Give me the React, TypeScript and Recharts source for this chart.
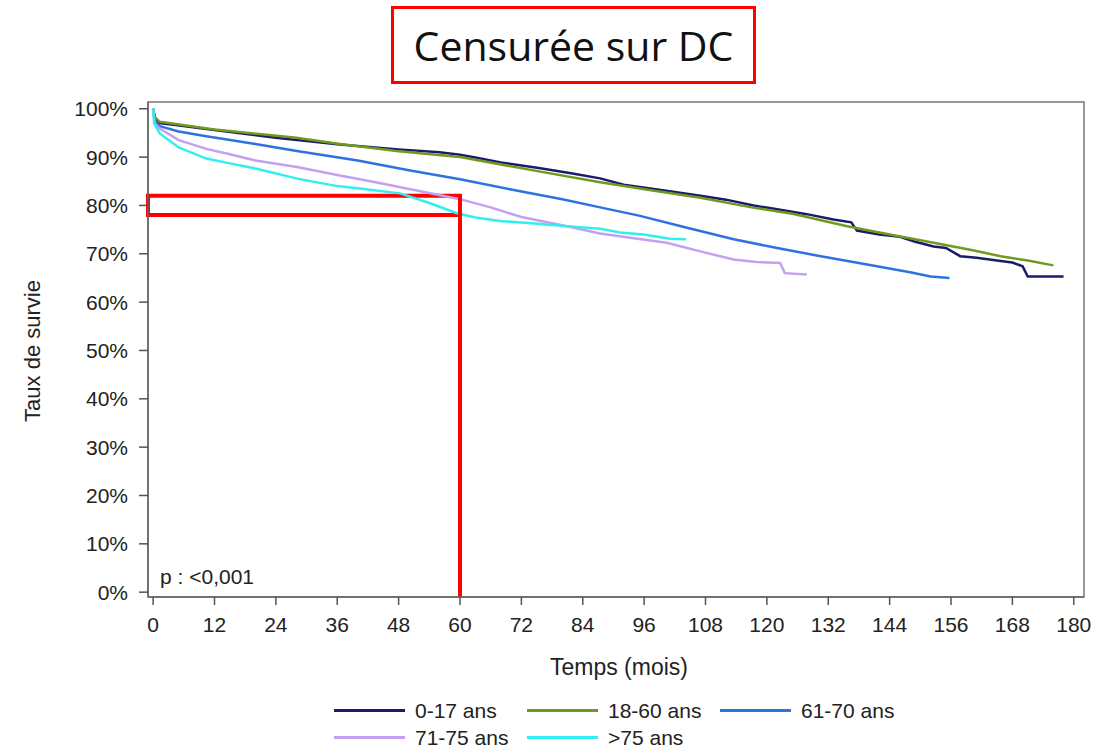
import { LineChart, Line, XAxis, YAxis, ReferenceArea, ReferenceLine } from "recharts";

// Kaplan-Meier survival by age group, months vs % surviving
const group0to17 = [
  [0, 100], [0.5, 97.5], [1.5, 97.0], [4, 96.7], [12, 95.6], [24, 94.0], [36.5, 92.6], [48, 91.6],
  [56, 91.0], [60, 90.5], [63, 89.9], [68, 88.9], [75.7, 87.7], [82, 86.6], [87.4, 85.6], [92, 84.3],
  [97.2, 83.5], [102, 82.8], [107, 82.0], [112, 81.2], [117.4, 80.0], [122, 79.2], [127.8, 78.2],
  [133, 77.1], [136.5, 76.5], [137.6, 74.8], [142, 74.0], [146, 73.5], [149, 72.5], [152.6, 71.5],
  [155, 71.2], [157.8, 69.5], [161, 69.2], [165.7, 68.5], [168, 68.2], [170, 67.4], [171, 65.3], [178, 65.3],
];
const group18to60 = [
  [0, 100], [0.3, 98.3], [1.3, 97.3], [12, 95.7], [28, 94.0], [36.5, 92.7], [48, 91.2], [60, 90.0],
  [75.7, 87.0], [87.4, 84.8], [97, 83.2], [107, 81.6], [117, 79.6], [125, 78.3], [135.7, 75.7],
  [144, 74.0], [152.6, 72.3], [160, 70.8], [165.7, 69.5], [171, 68.6], [176, 67.6],
];
const group61to70 = [
  [0, 100], [0.3, 97.5], [1.3, 96.4], [5, 95.3], [10.4, 94.3], [20, 92.7], [28.4, 91.2], [40, 89.3],
  [50, 87.3], [60, 85.4], [70, 83.3], [80, 81.3], [87.4, 79.6], [95, 77.9], [104, 75.5], [113.5, 73.0],
  [122, 71.2], [130, 69.6], [139.6, 67.8], [148, 66.2], [152, 65.3], [155.7, 65.0],
];
const group71to75 = [
  [0, 100], [0.3, 97], [1.3, 95.9], [5, 93.5], [10.4, 91.7], [15, 90.6], [20, 89.3], [28.4, 87.9],
  [36, 86.3], [44, 84.7], [52, 83.0], [60, 81.3], [66, 79.6], [72, 77.6], [80.9, 75.7], [87.4, 74.2],
  [94, 73.2], [100.4, 72.3], [107, 70.5], [113.5, 68.8], [118, 68.3], [122.6, 68.1], [123.5, 66.0], [127.8, 65.7],
];
const groupOver75 = [
  [0, 100], [0.2, 97], [1.3, 94.9], [5, 92], [10.4, 89.7], [15, 88.7], [20.2, 87.6], [28.4, 85.5],
  [36, 84.0], [42, 83.3], [48.3, 82.5], [54, 80.5], [59.4, 78.4], [63, 77.5], [67.8, 76.8], [74, 76.3],
  [80.9, 75.7], [87.4, 75.2], [91.3, 74.4], [95.9, 74.0], [101.1, 73.1], [104.2, 73.0],
];

const groupNames = ["0-17 ans", "18-60 ans", "61-70 ans", "71-75 ans", ">75 ans"];
const groupColors = ["#1b1b6b", "#6f9a1e", "#2c73e0", "#c4a0f0", "#33eeee"];
const groupCurves = [group0to17, group18to60, group61to70, group71to75, groupOver75];

const monthTicks = [0, 12, 24, 36, 48, 60, 72, 84, 96, 108, 120, 132, 144, 156, 168, 180];
const pctTicks = [0, 10, 20, 30, 40, 50, 60, 70, 80, 90, 100];

// highlighted 5-year window
const markMonth = 60;
const markLow = 78;
const markHigh = 82;

const FONT = "'Liberation Sans', Arial, sans-serif";
const X_MIN = -1;
const X_MAX = 182;
const Y_MIN = -1;
const Y_MAX = 101.4;

const toRows = (pts: number[][]) => pts.map(([m, p]) => ({ m, p }));

function LegendRow({ items }: { items: number[] }) {
  return (
    <div style={{ display: "flex", height: 27, alignItems: "center" }}>
      {items.map((i) => (
        <div key={i} style={{ display: "flex", alignItems: "center", width: 193 }}>
          <div style={{ width: 71, height: 3, background: groupColors[i] }} />
          <span style={{ marginLeft: 10, fontSize: 21, color: "#222" }}>{groupNames[i]}</span>
        </div>
      ))}
    </div>
  );
}

export default function App() {
  return (
    <div style={{ position: "absolute", left: 0, top: 0, width: 1120, height: 747, background: "#fff", fontFamily: FONT }}>
      <div
        style={{
          position: "absolute", left: 391, top: 6, width: 359, height: 72,
          border: "3px solid #ff0000", display: "flex", alignItems: "center", justifyContent: "center",
          fontFamily: "'Open Sans', sans-serif", fontSize: 41, color: "#111",
        }}
      >
        Censurée sur DC
      </div>

      <LineChart width={1120} height={747} margin={{ top: 102, right: 36, left: 88, bottom: 110 }}>
        <XAxis
          type="number"
          dataKey="m"
          domain={[X_MIN, X_MAX]}
          ticks={monthTicks}
          allowDataOverflow
          height={40}
          tickSize={8}
          tickMargin={12}
          tick={{ fontSize: 21, fill: "#222", fontFamily: FONT }}
          tickLine={{ stroke: "#555", strokeWidth: 1.5 }}
          axisLine={{ stroke: "#666", strokeWidth: 1.5 }}
        />
        <YAxis
          type="number"
          domain={[Y_MIN, Y_MAX]}
          ticks={pctTicks}
          allowDataOverflow
          width={60}
          tickSize={9}
          tickMargin={11}
          tickFormatter={(v: number) => `${v}%`}
          tick={{ fontSize: 21, fill: "#222", fontFamily: FONT }}
          tickLine={{ stroke: "#555", strokeWidth: 1.5 }}
          axisLine={{ stroke: "#666", strokeWidth: 1.5 }}
        />
        <ReferenceArea x1={X_MIN} x2={X_MAX} y1={Y_MIN} y2={Y_MAX} fill="none" stroke="#777" strokeWidth={1.5} />
        {groupCurves.map((pts, i) => (
          <Line
            key={groupNames[i]}
            data={toRows(pts)}
            dataKey="p"
            name={groupNames[i]}
            type="linear"
            stroke={groupColors[i]}
            strokeWidth={2.5}
            dot={false}
            isAnimationActive={false}
          />
        ))}
        <ReferenceArea
          x1={X_MIN}
          x2={markMonth}
          y1={markLow}
          y2={markHigh}
          fill="none"
          stroke="#ff0000"
          strokeWidth={4}
          ifOverflow="visible"
        />
        <ReferenceLine
          segment={[{ x: markMonth, y: Y_MIN }, { x: markMonth, y: markHigh }]}
          stroke="#ff0000"
          strokeWidth={4}
          ifOverflow="visible"
        />
      </LineChart>

      <div style={{ position: "absolute", left: 160, top: 565, fontSize: 21, color: "#222" }}>p : &lt;0,001</div>

      <div
        style={{
          position: "absolute", left: 33, top: 351, transform: "translate(-50%, -50%) rotate(-90deg)",
          fontSize: 22, color: "#222", whiteSpace: "nowrap",
        }}
      >
        Taux de survie
      </div>
      <div style={{ position: "absolute", left: 619, top: 667, transform: "translate(-50%, -50%)", fontSize: 23, color: "#222", whiteSpace: "nowrap" }}>
        Temps (mois)
      </div>

      <div style={{ position: "absolute", left: 334, top: 697 }}>
        <LegendRow items={[0, 1, 2]} />
        <LegendRow items={[3, 4]} />
      </div>
    </div>
  );
}
